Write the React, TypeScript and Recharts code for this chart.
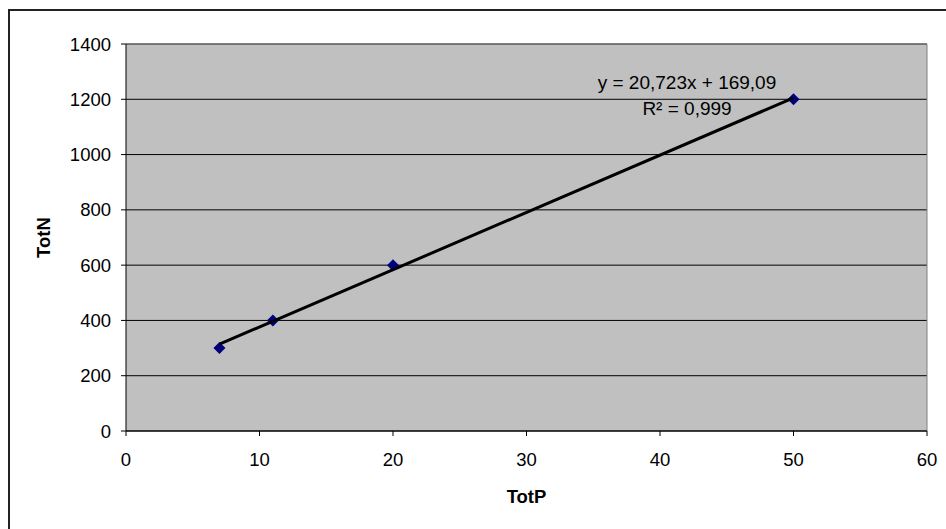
import {
  ScatterChart,
  Scatter,
  XAxis,
  YAxis,
  CartesianGrid,
  ReferenceLine,
} from 'recharts';

const totP = [7, 11, 20, 50];
const totN = [300, 400, 600, 1200];
const trendP = [7, 50];
const trendN = [314.15, 1205.24];
const xTicks = [0, 10, 20, 30, 40, 50, 60];
const yTicks = [0, 200, 400, 600, 800, 1000, 1200, 1400];
const equation = 'y = 20,723x + 169,09';
const rSquared = 'R² = 0,999';

const points = totP.map((p, i) => ({ p, n: totN[i] }));
const trend = trendP.map((p, i) => ({ p, n: trendN[i] }));

const font = '"Liberation Sans", Arial, sans-serif';

const Diamond = (props: any) => {
  const { cx, cy } = props;
  if (cx == null || cy == null) return <g />;
  const r = 6;
  return (
    <polygon
      points={`${cx},${cy - r} ${cx + r},${cy} ${cx},${cy + r} ${cx - r},${cy}`}
      fill="#000080"
    />
  );
};

const App = () => {
  return (
    <div
      style={{
        position: 'absolute',
        left: 0,
        top: 0,
        width: 946,
        height: 529,
        background: '#fff',
        fontFamily: font,
        overflow: 'hidden',
      }}
    >
      <div
        style={{
          position: 'absolute',
          left: 8,
          top: 9,
          width: 946,
          height: 529,
          borderTop: '2px solid #222',
          borderLeft: '2px solid #222',
        }}
      />
      <div style={{ position: 'absolute', left: 0, top: 0 }}>
        <ScatterChart
          width={946}
          height={529}
          margin={{ top: 44, right: 19, left: 0, bottom: 0 }}
        >
          <CartesianGrid
            vertical={false}
            stroke="#000"
            fill="#c0c0c0"
            fillOpacity={1}
          />
          <XAxis
            type="number"
            dataKey="p"
            domain={[0, 60]}
            ticks={xTicks}
            height={98}
            tickSize={5}
            tickMargin={17}
            stroke="#000"
            tick={{ fill: '#000', fontSize: 18.5, fontFamily: font }}
            label={{
              value: 'TotP',
              position: 'insideBottom',
              offset: 26,
              fill: '#000',
              fontSize: 18.5,
              fontWeight: 'bold',
              fontFamily: font,
            }}
          />
          <YAxis
            type="number"
            dataKey="n"
            domain={[0, 1400]}
            ticks={yTicks}
            width={126}
            tickSize={5}
            tickMargin={10}
            stroke="#000"
            tick={{ fill: '#000', fontSize: 18.5, fontFamily: font }}
            label={{
              value: 'TotN',
              angle: -90,
              position: 'insideLeft',
              offset: 43,
              fill: '#000',
              fontSize: 18.5,
              fontWeight: 'bold',
              fontFamily: font,
              style: { textAnchor: 'middle' },
            }}
          />
          <ReferenceLine y={1400} stroke="#808080" strokeWidth={1} />
          <ReferenceLine x={60} stroke="#808080" strokeWidth={1} />
          <Scatter
            data={points}
            shape={<Diamond />}
            isAnimationActive={false}
          />
          <Scatter
            data={trend}
            line={{ stroke: '#000', strokeWidth: 3 }}
            shape={() => <g />}
            isAnimationActive={false}
          />
        </ScatterChart>
      </div>
      <svg
        width={946}
        height={529}
        style={{ position: 'absolute', left: 0, top: 0, pointerEvents: 'none' }}
      >
        <text
          x={687}
          y={89}
          textAnchor="middle"
          fontSize={19}
          fontFamily={font}
          fill="#000"
        >
          {equation}
        </text>
        <text
          x={687}
          y={115}
          textAnchor="middle"
          fontSize={19}
          fontFamily={font}
          fill="#000"
        >
          {rSquared}
        </text>
      </svg>
    </div>
  );
};

export default App;
